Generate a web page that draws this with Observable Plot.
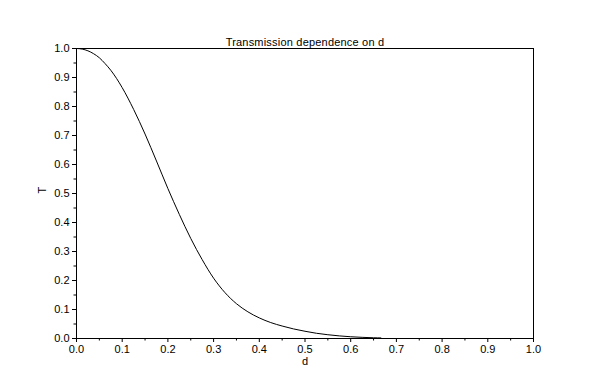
<!DOCTYPE html>
<html>
<head>
<meta charset="utf-8">
<script src="https://cdn.jsdelivr.net/npm/d3@7"></script>
<script src="https://cdn.jsdelivr.net/npm/@observablehq/plot@0.6"></script>
<style>
  html, body { margin: 0; padding: 0; background: white; }
</style>
</head>
<body>
<div id="chart"></div>
<script>
const titleText = "Transmission dependence on d";
const xLabel = "d";
const yLabel = "T";

const dValues = [0, 0.0125, 0.025, 0.0375, 0.05, 0.0625, 0.075, 0.1, 0.125, 0.15, 0.175, 0.2, 0.225, 0.25, 0.275, 0.3, 0.325, 0.35, 0.375, 0.4, 0.425, 0.45, 0.475, 0.5, 0.525, 0.55, 0.575, 0.6, 0.625, 0.65, 0.666];
const tValues = [1.0, 0.998, 0.992, 0.982, 0.968, 0.948, 0.925, 0.865, 0.79, 0.705, 0.612, 0.517, 0.428, 0.345, 0.272, 0.208, 0.158, 0.120, 0.092, 0.071, 0.055, 0.043, 0.033, 0.025, 0.018, 0.013, 0.009, 0.006, 0.004, 0.0025, 0.002];

const xMajor = [0, 0.1, 0.2, 0.3, 0.4, 0.5, 0.6, 0.7, 0.8, 0.9, 1.0];
const xMinor = [0.05, 0.15, 0.25, 0.35, 0.45, 0.55, 0.65, 0.75, 0.85, 0.95];
const yMajor = [0, 0.1, 0.2, 0.3, 0.4, 0.5, 0.6, 0.7, 0.8, 0.9, 1.0];
const yMinor = [0.05, 0.15, 0.25, 0.35, 0.45, 0.55, 0.65, 0.75, 0.85, 0.95];

const data = dValues.map((d, i) => ({d, T: tValues[i]}));
const fmt = d3.format(".1f");

const chart = Plot.plot({
  width: 610,
  height: 386,
  marginLeft: 76,
  marginRight: 77,
  marginTop: 48,
  marginBottom: 48,
  style: {fontFamily: "'Liberation Sans', Arial, sans-serif", fontSize: "11px", background: "white", color: "black"},
  x: {domain: [0, 1]},
  y: {domain: [0, 1]},
  marks: [
    Plot.frame({stroke: "black", strokeWidth: 1}),
    Plot.axisX({ticks: xMajor, tickSize: 4, tickPadding: 3, tickFormat: fmt, label: null, stroke: "black"}),
    Plot.axisX({ticks: xMinor, tickSize: 2.5, tickFormat: () => "", label: null, stroke: "black"}),
    Plot.axisY({ticks: yMajor, tickSize: 4, tickPadding: 3, tickFormat: fmt, label: null, stroke: "black"}),
    Plot.axisY({ticks: yMinor, tickSize: 2.5, tickFormat: () => "", label: null, stroke: "black"}),
    Plot.line(data, {x: "d", y: "T", stroke: "black", strokeWidth: 1, curve: "monotone-x"}),
    Plot.text([titleText], {frameAnchor: "top", dy: -10, text: d => d, fill: "black", fontSize: 11, className: "title-text"}),
    Plot.text([xLabel], {frameAnchor: "bottom", dy: 26, text: d => d, fill: "black", fontSize: 11}),
    Plot.text([yLabel], {frameAnchor: "left", dx: -34, rotate: -90, text: d => d, fill: "black", fontSize: 11})
  ]
});
d3.select(chart).selectAll(".title-text text").style("letter-spacing", "0.2px");
document.getElementById("chart").appendChild(chart);
</script>
</body>
</html>
